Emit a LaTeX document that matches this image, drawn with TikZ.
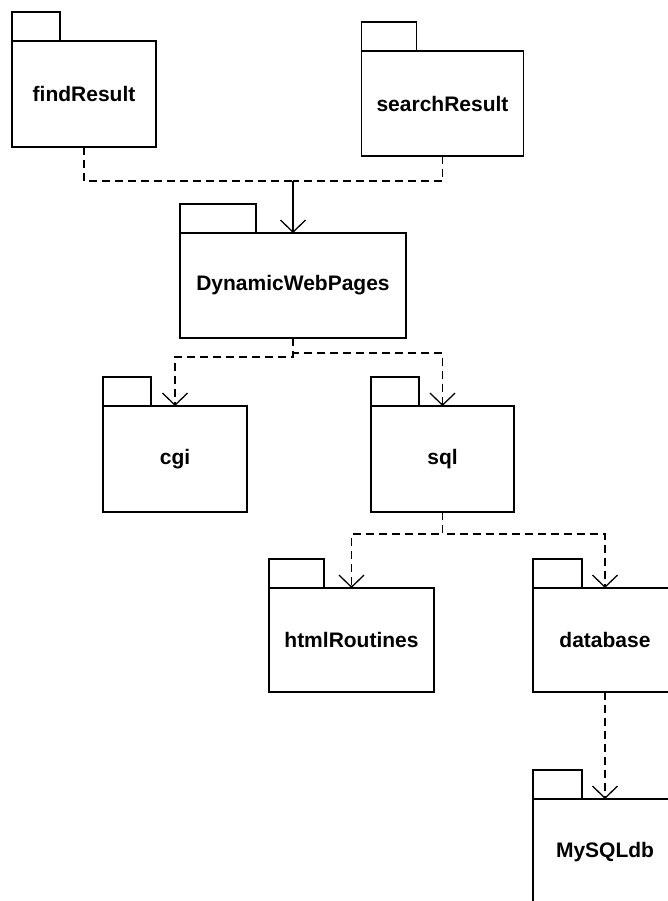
\documentclass[tikz,border=0pt]{standalone}
\usepackage{fontspec}
\setmainfont{Liberation Sans}
\usetikzlibrary{arrows.meta}
\tikzset{
  pkgbody/.style={draw, line width=1.8pt, inner sep=0pt, outer sep=0pt,
    font=\fontsize{21}{25}\selectfont\bfseries},
  pkgtab/.style={draw, line width=1.8pt, inner sep=0pt, outer sep=0pt,
    minimum height=29pt, anchor=south west},
  dep/.style={line width=1.3pt, dash pattern=on 8pt off 5pt},
  barb/.style={-{Straight Barb[length=12pt, width=25pt, line width=1.3pt]}},
  deparrow/.style={dep, barb}
}
\begin{document}
\begin{tikzpicture}[x=1pt, y=-1pt]
\useasboundingbox (0,0) rectangle (667,901);

% packages: body with name, tab on its upper left corner
\node[pkgbody, minimum width=144pt, minimum height=106pt] (fr) at (84,94) {findResult};
\node[pkgtab, minimum width=48pt] (frtab) at (fr.north west) {};

\node[pkgbody, minimum width=162pt, minimum height=105pt] (sr) at (442.5,103.5) {searchResult};
\node[pkgtab, minimum width=55pt] (srtab) at (sr.north west) {};

\node[pkgbody, minimum width=226pt, minimum height=105pt] (dwp) at (293,285.5) {DynamicWebPages};
\node[pkgtab, minimum width=76pt] (dwptab) at (dwp.north west) {};

\node[pkgbody, minimum width=144pt, minimum height=106pt] (cgi) at (175,459) {cgi};
\node[pkgtab, minimum width=48pt] (cgitab) at (cgi.north west) {};

\node[pkgbody, minimum width=143pt, minimum height=106pt] (sql) at (442.5,459) {sql};
\node[pkgtab, minimum width=48pt] (sqltab) at (sql.north west) {};

\node[pkgbody, minimum width=165pt, minimum height=104pt] (html) at (351.5,640) {htmlRoutines};
\node[pkgtab, minimum width=55pt] (htmltab) at (html.north west) {};

\node[pkgbody, minimum width=144pt, minimum height=104pt] (db) at (605,640) {database};
\node[pkgtab, minimum width=49pt] (dbtab) at (db.north west) {};

\node[pkgbody, minimum width=144pt, minimum height=106pt] (mysql) at (605,852) {MySQLdb};
\node[pkgtab, minimum width=49pt] (mysqltab) at (mysql.north west) {};

% dependencies
\coordinate (j1) at (293,181);
\draw[dep] (fr.south) |- (j1);
\draw[dep] (sr.south) |- (j1);
\draw[line width=1.3pt, barb] (j1) -- (dwp.north);

\draw[deparrow] (dwp.south) -- ++(0,19) -| (cgi.north);
\draw[deparrow] (dwp.south) -- ++(0,15) -| (sql.north);

\draw[deparrow] (sql.south) -- ++(0,22) -| (html.north);
\draw[deparrow] (sql.south) -- ++(0,22) -| (db.north);

\draw[deparrow] (db.south) -- (mysql.north);
\end{tikzpicture}
\end{document}
